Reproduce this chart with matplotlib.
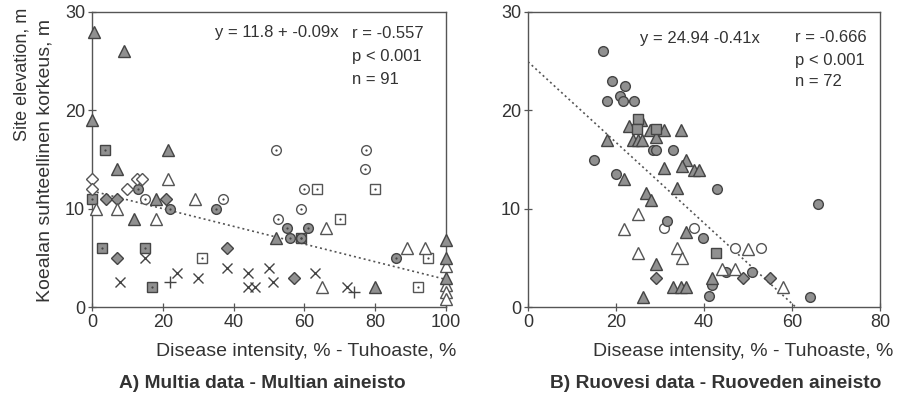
import matplotlib
matplotlib.use('Agg')
import matplotlib.pyplot as plt
import numpy as np

plt.rcParams['font.family'] = ['Liberation Sans', 'DejaVu Sans']
TXT = '#333333'

# --- A) Multia data (x = disease intensity %, y = site elevation m) ---
a_tri_f_x = [0.5, 9, 0, 21.5, 7, 12, 18, 52, 80, 100, 100, 100]
a_tri_f_y = [28, 26, 19, 16, 14, 9, 11, 7, 2, 6.8, 5, 2.9]
a_tri_o_x = [1, 7, 21.5, 18, 29, 66, 89, 94, 65, 100, 100, 100, 100]
a_tri_o_y = [10, 10, 13, 9, 11, 8, 6, 6, 2, 4.2, 2.2, 1.5, 0.8]
a_dia_f_x = [4, 7, 21, 7, 38, 57]
a_dia_f_y = [11, 11, 11, 5, 6, 3]
a_dia_o_x = [0, 0, 10, 12.6, 14]
a_dia_o_y = [13, 12, 12, 13, 13]
a_sq_f_x = [3.7, 0, 2.7, 15, 17, 59]
a_sq_f_y = [16, 11, 6, 6, 2, 7]
a_sq_o_x = [31, 63.5, 80, 70, 95, 92]
a_sq_o_y = [5, 12, 12, 9, 5, 2]
a_ci_o_x = [52, 37, 52.5, 77.5, 77, 60, 59, 15]
a_ci_o_y = [16, 11, 9, 16, 14, 12, 10, 11]
a_ci_f_x = [13, 22, 35, 55, 61, 56, 59, 86]
a_ci_f_y = [12, 10, 10, 8, 8, 7, 7, 5]
a_x_x = [8, 15, 24, 30, 38, 44, 44, 46, 50, 51, 63, 72]
a_x_y = [2.5, 5, 3.5, 3, 4, 3.5, 2, 2, 4, 2.5, 3.5, 2]
a_p_x = [22, 74]
a_p_y = [2.5, 1.5]

# --- B) Ruovesi data ---
b_ci_f_x = [17, 19, 22, 21, 18, 21.7, 24, 28.4, 29.1, 33, 15, 20, 43, 31.7,
            39.8, 41.9, 41.2, 45.1, 50.8, 66, 64]
b_ci_f_y = [26, 23, 22.5, 21.5, 21, 21, 21, 16, 16, 16, 15, 13.5, 12, 8.7,
            7, 2.2, 1.1, 3.6, 3.6, 10.5, 1]
b_tri_f_x = [22.9, 25.7, 27.8, 29, 31, 34.8, 17.9, 23.8, 25, 26, 35.9, 35,
             37.8, 38.9, 31, 21.8, 33.8, 26.9, 28, 35.9, 29, 33, 34.8, 36,
             26.1, 41.9]
b_tri_f_y = [18.4, 19, 18, 17.3, 18, 18, 17, 17, 17, 17, 15, 14.3,
             13.9, 13.9, 14.1, 13, 12.1, 11.6, 10.9, 7.6, 4.4, 2, 2, 2,
             1, 3]
b_tri_o_x = [25, 21.9, 33.8, 35, 25, 44, 47, 50, 57.9]
b_tri_o_y = [9.5, 7.9, 6, 5, 5.5, 3.9, 3.9, 5.9, 2]
b_sq_f_x = [25, 24.7, 29, 42.8]
b_sq_f_y = [19.1, 18.1, 18.1, 5.5]
b_ci_o_x = [31, 37.8, 47, 53]
b_ci_o_y = [8, 8, 6, 6]
b_dia_f_x = [29, 48.9, 54.9]
b_dia_f_y = [3, 3, 3]

a_fit = (11.8, -0.09)
b_fit = (24.94, -0.41)

FILL = '#909090'
EDGE = '#444444'
OPEN_EDGE = '#555555'


def pts(ax, x, y, marker, size, filled=True, dot=False, mew=1.0):
    fc = FILL if filled else 'white'
    ec = EDGE if filled else OPEN_EDGE
    if marker in ('x', '+'):
        ax.plot(x, y, ls='none', marker=marker, ms=size, mec='#444444', mew=1.0, clip_on=False, zorder=3)
        return
    ax.plot(x, y, ls='none', marker=marker, ms=size, mfc=fc, mec=ec, mew=mew, clip_on=False, zorder=3)
    if dot:
        ax.plot(x, y, ls='none', marker='o', ms=1.6, mfc='#444444', mec='none', clip_on=False, zorder=4)


def style(ax, xmax, xticks):
    ax.set_xlim(0, xmax)
    ax.set_ylim(0, 30)
    ax.set_xticks(xticks)
    ax.set_yticks([0, 10, 20, 30])
    for s in ax.spines.values():
        s.set_color('#555555')
        s.set_linewidth(1.0)
    ax.tick_params(direction='inout', length=6, width=0.9, color='#555555',
                   labelsize=13, labelcolor=TXT, pad=2)


fig = plt.figure(figsize=(8.97, 4.04), dpi=100)
ax1 = fig.add_axes([92 / 897, 97 / 404, 354 / 897, 295 / 404])
ax2 = fig.add_axes([528 / 897, 97 / 404, 352 / 897, 295 / 404])

# left panel
xs = np.array([0, 100])
ax1.plot(xs, a_fit[0] + a_fit[1] * xs, ls=(0, (1.2, 1.8)), color='#555555', lw=1.2, zorder=2)
pts(ax1, a_x_x, a_x_y, 'x', 7)
pts(ax1, a_p_x, a_p_y, '+', 8)
pts(ax1, a_sq_o_x, a_sq_o_y, 's', 6.5, filled=False, dot=True)
pts(ax1, a_sq_f_x, a_sq_f_y, 's', 6.5, dot=True)
pts(ax1, a_ci_o_x, a_ci_o_y, 'o', 7, filled=False, dot=True)
pts(ax1, a_ci_f_x, a_ci_f_y, 'o', 7, dot=True)
pts(ax1, a_dia_o_x, a_dia_o_y, 'D', 6, filled=False)
pts(ax1, a_dia_f_x, a_dia_f_y, 'D', 6)
pts(ax1, a_tri_o_x, a_tri_o_y, '^', 8.5, filled=False)
pts(ax1, a_tri_f_x, a_tri_f_y, '^', 8.5)
style(ax1, 100, [0, 20, 40, 60, 80, 100])

# right panel
xs = np.array([0, -b_fit[0] / b_fit[1]])
ax2.plot(xs, b_fit[0] + b_fit[1] * xs, ls=(0, (1.2, 1.8)), color='#555555', lw=1.2, zorder=2)
pts(ax2, b_ci_o_x, b_ci_o_y, 'o', 7, filled=False)
pts(ax2, b_ci_f_x, b_ci_f_y, 'o', 7)
pts(ax2, b_tri_o_x, b_tri_o_y, '^', 8.5, filled=False)
pts(ax2, b_tri_f_x, b_tri_f_y, '^', 8.5)
pts(ax2, b_sq_f_x, b_sq_f_y, 's', 6.5)
pts(ax2, b_dia_f_x, b_dia_f_y, 'D', 6)
style(ax2, 80, [0, 20, 40, 60, 80])

# statistics
fs = 12
fig.text(215 / 897, 1 - 33 / 404, 'y = 11.8 + -0.09x', fontsize=fs, color=TXT, va='center')
fig.text(352 / 897, 1 - 33 / 404, 'r = -0.557', fontsize=fs, color=TXT, va='center')
fig.text(352 / 897, 1 - 56 / 404, 'p < 0.001', fontsize=fs, color=TXT, va='center')
fig.text(352 / 897, 1 - 79 / 404, 'n = 91', fontsize=fs, color=TXT, va='center')
fig.text(640 / 897, 1 - 38 / 404, 'y = 24.94 -0.41x', fontsize=fs, color=TXT, va='center')
fig.text(795 / 897, 1 - 38 / 404, 'r = -0.666', fontsize=fs, color=TXT, va='center')
fig.text(795 / 897, 1 - 60 / 404, 'p < 0.001', fontsize=fs, color=TXT, va='center')
fig.text(795 / 897, 1 - 82 / 404, 'n = 72', fontsize=fs, color=TXT, va='center')

# axis labels
fig.text(22 / 897, 1 - 74 / 404, 'Site elevation, m', rotation=90, fontsize=13,
         color=TXT, ha='center', va='center')
fig.text(45 / 897, 1 - 160 / 404, 'Koealan suhteellinen korkeus, m', rotation=90, fontsize=14,
         color=TXT, ha='center', va='center')
fig.text(456 / 897, 1 - 352 / 404, 'Disease intensity, % - Tuhoaste, %', fontsize=14,
         color=TXT, ha='right', va='center')
fig.text(893 / 897, 1 - 352 / 404, 'Disease intensity, % - Tuhoaste, %', fontsize=14,
         color=TXT, ha='right', va='center')

# panel titles
fig.text(262 / 897, 1 - 384 / 404, 'A) Multia data - Multian aineisto', fontsize=13.8,
         fontweight='bold', color=TXT, ha='center', va='center')
fig.text(716 / 897, 1 - 384 / 404, 'B) Ruovesi data - Ruoveden aineisto', fontsize=13.8,
         fontweight='bold', color=TXT, ha='center', va='center')

fig.savefig('out.png', dpi=100, facecolor='white')
